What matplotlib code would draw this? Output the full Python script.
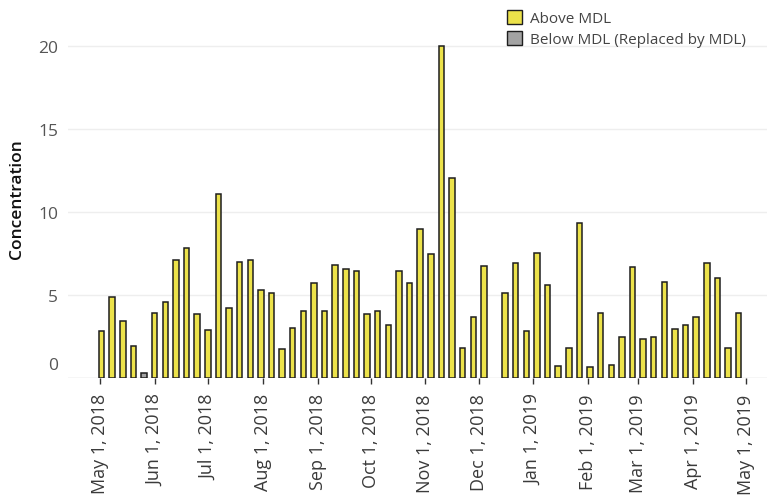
import matplotlib
matplotlib.use("Agg")
import matplotlib.pyplot as plt
import matplotlib.dates as mdates
import matplotlib.transforms as mtransforms
from matplotlib.patches import Patch
import datetime as dt

# Sample dates (1-in-6 day schedule, one missed sample in December)
dates = [
    "2018-05-02", "2018-05-08", "2018-05-14", "2018-05-20", "2018-05-26",
    "2018-06-01", "2018-06-07", "2018-06-13", "2018-06-19", "2018-06-25",
    "2018-07-01", "2018-07-07", "2018-07-13", "2018-07-19", "2018-07-25",
    "2018-07-31", "2018-08-06", "2018-08-12", "2018-08-18", "2018-08-24",
    "2018-08-30", "2018-09-05", "2018-09-11", "2018-09-17", "2018-09-23",
    "2018-09-29", "2018-10-05", "2018-10-11", "2018-10-17", "2018-10-23",
    "2018-10-29", "2018-11-04", "2018-11-10", "2018-11-16", "2018-11-22",
    "2018-11-28", "2018-12-04", "2018-12-16", "2018-12-22", "2018-12-28",
    "2019-01-03", "2019-01-09", "2019-01-15", "2019-01-21", "2019-01-27",
    "2019-02-02", "2019-02-08", "2019-02-14", "2019-02-20", "2019-02-26",
    "2019-03-04", "2019-03-10", "2019-03-16", "2019-03-22", "2019-03-28",
    "2019-04-03", "2019-04-09", "2019-04-15", "2019-04-21", "2019-04-27",
]
concentration = [
    2.85, 4.9, 3.43, 1.93, 0.3,
    3.9, 4.6, 7.1, 7.83, 3.86,
    2.9, 11.08, 4.2, 7.0, 7.1,
    5.3, 5.1, 1.75, 3.0, 4.04,
    5.74, 4.04, 6.8, 6.55, 6.45,
    3.84, 4.04, 3.19, 6.45, 5.74,
    8.98, 7.45, 20.0, 12.03, 1.79,
    3.69, 6.75, 5.1, 6.95, 2.85,
    7.51, 5.6, 0.72, 1.79, 9.36,
    0.64, 3.9, 0.78, 2.49, 6.7,
    2.33, 2.49, 5.8, 2.93, 3.19,
    3.69, 6.95, 6.0, 1.79, 3.9,
]
below_mdl = ["2018-05-26"]

yellow = "#ECE24A"
grey = "#A3A3A3"
edge = "#1E1E1E"

plt.rcParams['font.family'] = ['Open Sans', 'DejaVu Sans']

fig = plt.figure(figsize=(7.67, 5.02), dpi=100)
ax = fig.add_axes([68/767, 1 - 379/502, 1 - 68/767, (379 - 20)/502])

x = [dt.datetime.strptime(d, "%Y-%m-%d") for d in dates]
colors = [grey if d in below_mdl else yellow for d in dates]
ax.bar(x, concentration, width=3.1, color=colors, edgecolor=edge, linewidth=1.1, zorder=3)

ax.set_xlim(dt.datetime(2018, 4, 13), dt.datetime(2019, 5, 13))
ax.set_ylim(0, (379 - 20)/16.6)

# Axes styling
for s in ax.spines.values():
    s.set_visible(False)
ax.axhline(0, color="#e4e4e4", lw=1, zorder=1)
ax.set_yticks([0, 5, 10, 15, 20])
ax.yaxis.grid(True, color="#eeeeee", lw=1, zorder=0)
ax.tick_params(axis='y', length=0, pad=7, labelsize=12.5, labelcolor="#555555")
ax.set_ylabel("Concentration", fontsize=12.5, color="#111111", fontweight='semibold')
ax.yaxis.set_label_coords(-43/699, 0.5)

ax.xaxis.set_major_locator(mdates.MonthLocator(bymonthday=1))
ax.xaxis.set_major_formatter(mdates.DateFormatter("%b %-d, %Y"))
ax.tick_params(axis='x', length=4, width=1, color="#333333", direction='out',
               labelsize=13, labelcolor="#3a3a3a", rotation=90, pad=7)

# Tableau pushes the bottom label up
fig.canvas.draw()
zero_lab = ax.get_yticklabels()[0]
zero_lab.set_transform(zero_lab.get_transform() +
                       mtransforms.ScaledTranslation(0, 15/100, fig.dpi_scale_trans))

handles = [Patch(facecolor=yellow, edgecolor=edge, label="Above MDL"),
           Patch(facecolor=grey, edgecolor=edge, label="Below MDL (Replaced by MDL)")]
fig.legend(handles=handles, loc="upper right", bbox_to_anchor=(0.99, 1.005), frameon=False,
           fontsize=11, labelcolor="#444444", handlelength=1.0, handleheight=1.0,
           handletextpad=0.5, labelspacing=0.3)

fig.savefig("out.png", dpi=100)
